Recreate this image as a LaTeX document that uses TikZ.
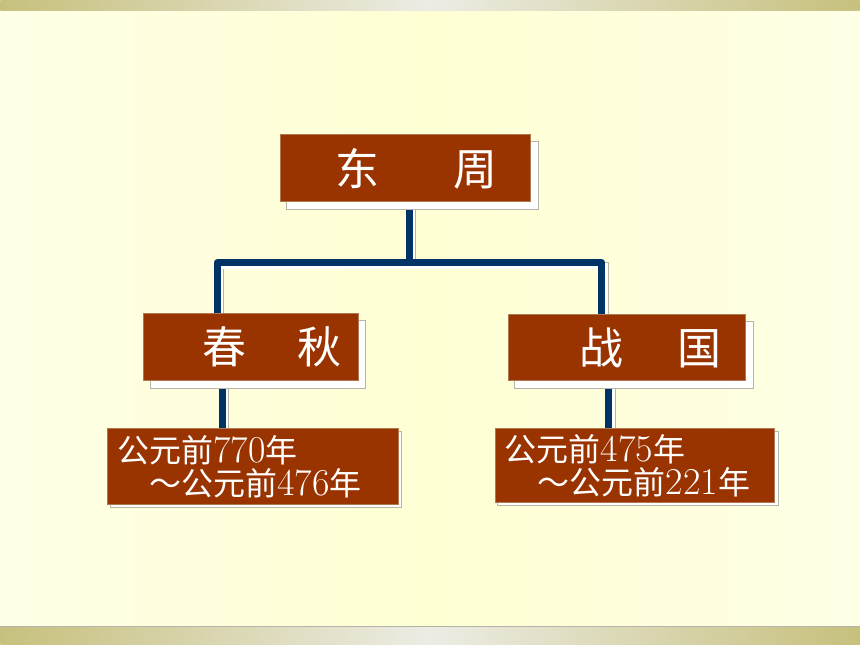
\documentclass[tikz,border=0pt]{standalone}
\usepackage{fontspec}
\newfontfamily\cjk{Noto Sans CJK SC}
\usetikzlibrary{calc}
\definecolor{boxred}{RGB}{153,51,0}
\definecolor{boxedge}{RGB}{176,120,80}
\definecolor{lineblue}{RGB}{0,51,102}
\definecolor{creamA}{RGB}{255,255,230}
\definecolor{creamB}{RGB}{255,255,212}
\definecolor{oliveA}{RGB}{199,192,125}
\definecolor{oliveB}{RGB}{236,236,228}
\definecolor{shadowedge}{RGB}{180,180,170}
\pgfdeclarelayer{back}\pgfdeclarelayer{conn}\pgfdeclarelayer{shd}
\pgfsetlayers{back,conn,shd,main}
\newcommand\dnum[1]{{\rmfamily\fontsize{38}{32}\selectfont #1}}
\begin{document}
\begin{tikzpicture}[x=1pt,y=-1pt,
  titlebox/.style={fill=boxred,draw=boxedge,line width=0.8pt,text=white,inner sep=0pt,
    font=\cjk\fontsize{44}{44}\selectfont},
  datebox/.style={fill=boxred,draw=boxedge,line width=0.8pt,text=white,inner xsep=10pt,inner ysep=0pt,
    align=left,font=\cjk\fontsize{32}{33}\selectfont},
  boxshadow/.style={fill=white,draw=shadowedge,line width=0.8pt},
  conn/.style={draw=lineblue,line width=7pt,line join=round},
  connshadow/.style={draw=shadowedge,double=white,double distance=6pt,line width=0.8pt,
    transform canvas={shift={(3,3)}}}]
\begin{pgfonlayer}{back}
  \shade[left color=creamA,right color=creamA,middle color=creamB] (0,11) rectangle (860,627);
  \shade[left color=oliveA,right color=oliveA,middle color=oliveB] (0,0) rectangle (860,11);
  \shade[left color=oliveA,right color=oliveA,middle color=oliveB] (0,627) rectangle (860,645);
  \draw[draw=shadowedge,line width=1pt] (0,627.5) -- (860,627.5);
\end{pgfonlayer}

\node[titlebox,minimum width=251pt,minimum height=67pt] (dz) at (405.5,168.5)
  {\hspace*{22pt}东\hspace{74pt}周};
\node[titlebox,minimum width=215pt,minimum height=67pt] (cq) at (250.5,347.5)
  {\hspace*{42pt}春\hspace{51pt}秋};
\node[titlebox,minimum width=238pt,minimum height=66pt] (zg) at (627,348)
  {\hspace*{48pt}战\hspace{54pt}国};
\node[datebox,minimum width=291pt,minimum height=76pt,text width=271pt] (lb) at (252.5,467)
  {公元前\dnum{770}年\\\hspace*{32pt}～公元前\dnum{476}年};
\node[datebox,minimum width=280pt,minimum height=74pt,text width=260pt] (rb) at (635,466)
  {公元前\dnum{475}年\\\hspace*{33pt}～公元前\dnum{221}年};

\begin{pgfonlayer}{shd}
  \draw[boxshadow] ([shift={(7,7)}]dz.south west) rectangle ([shift={(7,7)}]dz.north east);
  \draw[boxshadow] ([shift={(7,7)}]cq.south west) rectangle ([shift={(7,7)}]cq.north east);
  \draw[boxshadow] ([shift={(7,7)}]zg.south west) rectangle ([shift={(7,7)}]zg.north east);
  \draw[boxshadow] ([shift={(3,3)}]lb.south west) rectangle ([shift={(3,3)}]lb.north east);
  \draw[boxshadow] ([shift={(3,3)}]rb.south west) rectangle ([shift={(3,3)}]rb.north east);
\end{pgfonlayer}

\coordinate (j) at (409,263);
\begin{pgfonlayer}{conn}
  \draw[connshadow] ([xshift=3.5pt]dz.south) -- (j);
  \draw[connshadow] ([xshift=-33.5pt]cq.north) |- (j) -| ([xshift=-25pt]zg.north);
  \draw[connshadow] ([xshift=-28.5pt]cq.south) -- ([xshift=-28.5pt]cq.south |- lb.north);
  \draw[connshadow] ([xshift=-18pt]zg.south) -- ([xshift=-18pt]zg.south |- rb.north);
  \draw[conn] ([xshift=3.5pt]dz.south) -- (j);
  \draw[conn] ([xshift=-33.5pt]cq.north) |- (j) -| ([xshift=-25pt]zg.north);
  \draw[conn] ([xshift=-28.5pt]cq.south) -- ([xshift=-28.5pt]cq.south |- lb.north);
  \draw[conn] ([xshift=-18pt]zg.south) -- ([xshift=-18pt]zg.south |- rb.north);
\end{pgfonlayer}
\useasboundingbox (0,0) rectangle (860,645);
\end{tikzpicture}
\end{document}
